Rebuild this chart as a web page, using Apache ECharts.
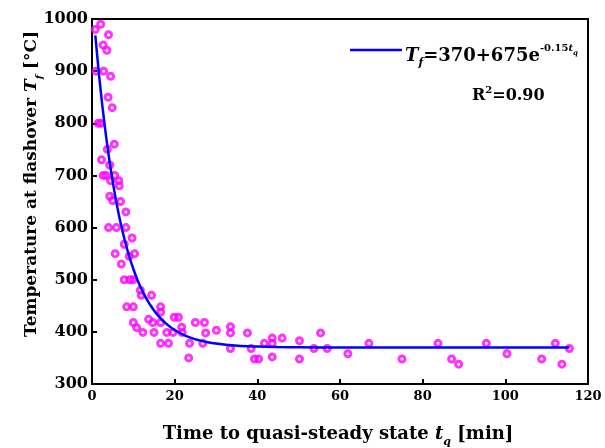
<!DOCTYPE html>
<html>
<head>
<meta charset="utf-8">
<script src="https://cdn.jsdelivr.net/npm/echarts@6/dist/echarts.min.js"></script>
<style>
  html, body { margin: 0; padding: 0; background: #fff; }
  #chart { width: 605px; height: 448px; }
</style>
</head>
<body>
<div id="chart"></div>
<script>
// measured points: time to quasi-steady state (min) / temperature at flashover (°C)
const timeQ = [2.1, 0.8, 4.0, 2.7, 3.6, 1.0, 2.8, 4.5, 3.9, 4.9,
  1.5, 2.2, 5.4, 3.7, 2.3, 4.3, 2.7, 3.4, 5.5, 4.5,
  6.5, 6.6, 4.3, 5.0, 6.9, 8.2, 4.0, 5.9, 8.2, 9.7,
  7.8, 10.3, 5.6, 9.0, 7.1, 7.8, 9.1, 9.9, 11.7, 11.9,
  14.4, 8.4, 10.0, 16.6, 16.6, 13.7, 14.7, 10.0, 16.6, 19.9,
  20.9, 10.8, 21.7, 12.3, 15.0, 18.1, 19.6, 21.8, 16.6, 18.5,
  23.6, 23.4, 25.0, 27.2, 26.8, 27.5, 30.1, 33.5, 33.5, 37.6,
  33.5, 38.5, 39.3, 40.3, 41.7, 43.6, 43.6, 46.0, 43.6, 50.2,
  50.2, 53.7, 55.3, 56.9, 61.9, 67.0, 75.0, 83.7, 87.0, 88.7,
  95.4, 100.4, 108.8, 112.1, 113.7, 115.5];
const tempF = [990, 980, 970, 950, 940, 900, 900, 890, 850, 830,
  800, 800, 760, 750, 730, 720, 700, 700, 700, 690,
  690, 680, 660, 652, 650, 630, 600, 600, 600, 580,
  568, 550, 550, 545, 530, 500, 500, 500, 480, 470,
  470, 448, 448, 448, 438, 424, 418, 418, 418, 428,
  428, 408, 409, 399, 399, 399, 399, 399, 378, 378,
  378, 350, 418, 418, 378, 398, 403, 410, 398, 398,
  368, 368, 348, 348, 378, 378, 388, 388, 352, 383,
  348, 368, 398, 368, 358, 378, 348, 378, 348, 338,
  378, 358, 348, 378, 338, 368];

// fitted curve Tf = 370 + 675 e^(-0.15 tq)
const fitTime = [0.8, 1.5, 2, 3, 4, 5, 6, 7, 8, 9, 10, 11, 12, 13, 14, 15, 16, 18, 20,
  22, 24, 26, 28, 30, 33, 36, 40, 45, 50, 60, 80, 100, 115.5];
const fitTemp = [968.7, 909.0, 870.1, 800.4, 740.4, 688.9, 644.4, 606.2, 573.3, 545.0,
  520.6, 499.6, 481.6, 466.0, 452.7, 441.1, 431.2, 415.4, 403.6, 394.9, 388.5, 383.7,
  380.1, 377.5, 374.8, 373.0, 371.7, 370.8, 370.4, 370.1, 370.0, 370.0, 370.0];

const serif = "DejaVu Serif";
const pts = timeQ.map((t, i) => [t, tempF[i]]);
const fitPts = fitTime.map((t, i) => [t, fitTemp[i]]);

const chart = echarts.init(document.getElementById("chart"));
chart.setOption({
  animation: false,
  grid: {
    left: 92, right: 17, top: 19, bottom: 64,
    show: true, borderColor: "#000", borderWidth: 2,
  },
  xAxis: {
    type: "value", min: 0, max: 120, interval: 20,
    axisLine: { show: true, onZero: false, lineStyle: { color: "#000", width: 2 } },
    axisTick: { show: true, inside: true, length: 5, lineStyle: { color: "#000", width: 2 } },
    axisLabel: { color: "#000", fontFamily: serif, fontWeight: "bold", fontSize: 13, margin: 6 },
    splitLine: { show: false },
  },
  yAxis: {
    type: "value", min: 300, max: 1000, interval: 100,
    axisLine: { show: true, onZero: false, lineStyle: { color: "#000", width: 2 } },
    axisTick: { show: true, inside: true, length: 5, lineStyle: { color: "#000", width: 2 } },
    axisLabel: {
      color: "#000", fontFamily: serif, fontWeight: "bold", fontSize: 16, margin: 4,
      formatter: (v) => String(v),
    },
    splitLine: { show: false },
  },
  series: [
    {
      type: "scatter",
      data: pts,
      symbol: "circle",
      symbolSize: 6,
      itemStyle: { color: "rgba(0,0,0,0)", borderColor: "#ff00ff", borderWidth: 3 },
      z: 2,
    },
    {
      type: "line",
      data: fitPts,
      smooth: true,
      showSymbol: false,
      lineStyle: { color: "#0000ff", width: 2.5 },
      z: 3,
    },
  ],
  graphic: [
    // legend sample line
    { type: "line", shape: { x1: 350, y1: 50, x2: 402, y2: 50 }, style: { stroke: "#0000ff", lineWidth: 2.5 } },
    {
      type: "text", x: 405, y: 50,
      style: {
        text: "{it|T}{sub|f}{b|=370+675e}{sup|-0.15}{supit|t}{supsub|q}",
        align: "left", verticalAlign: "middle",
        rich: {
          it: { fontFamily: serif, fontWeight: "bold", fontStyle: "italic", fontSize: 18, lineHeight: 18, padding: [6, 0, 0, 0], verticalAlign: "top" },
          b: { fontFamily: serif, fontWeight: "bold", fontSize: 18, lineHeight: 18, padding: [6, 0, 0, 0], verticalAlign: "top" },
          sub: { fontFamily: serif, fontWeight: "bold", fontStyle: "italic", fontSize: 11, lineHeight: 11, padding: [17, 0, 0, 0], verticalAlign: "top" },
          sup: { fontFamily: serif, fontWeight: "bold", fontSize: 10, lineHeight: 10, padding: [2, 0, 0, 0], verticalAlign: "top" },
          supit: { fontFamily: serif, fontWeight: "bold", fontStyle: "italic", fontSize: 10, lineHeight: 10, padding: [2, 0, 0, 0], verticalAlign: "top" },
          supsub: { fontFamily: serif, fontWeight: "bold", fontStyle: "italic", fontSize: 7, lineHeight: 7, padding: [9, 0, 0, 0], verticalAlign: "top" },
        },
      },
    },
    {
      type: "text", x: 472, y: 91,
      style: {
        text: "{b|R}{sup|2}{b|=0.90}",
        align: "left", verticalAlign: "middle",
        rich: {
          b: { fontFamily: serif, fontWeight: "bold", fontSize: 16, lineHeight: 16, padding: [5, 0, 0, 0], verticalAlign: "top" },
          sup: { fontFamily: serif, fontWeight: "bold", fontSize: 10, lineHeight: 10, padding: [2, 0, 0, 0], verticalAlign: "top" },
        },
      },
    },
    // x axis title
    {
      type: "text", x: 338, y: 430,
      style: {
        text: "{b|Time to quasi-steady state }{it|t}{sub|q}{b| [min]}",
        align: "center", verticalAlign: "middle",
        rich: {
          b: { fontFamily: serif, fontWeight: "bold", fontSize: 18, lineHeight: 18, padding: [4, 0, 0, 0], verticalAlign: "top" },
          it: { fontFamily: serif, fontWeight: "bold", fontStyle: "italic", fontSize: 18, lineHeight: 18, padding: [4, 0, 0, 0], verticalAlign: "top" },
          sub: { fontFamily: serif, fontWeight: "bold", fontStyle: "italic", fontSize: 11, lineHeight: 11, padding: [16, 0, 0, 0], verticalAlign: "top" },
        },
      },
    },
    // y axis title
    {
      type: "text", x: 28, y: 184, rotation: Math.PI / 2,
      style: {
        text: "{b|Temperature at flashover }{it|T}{sub|f}{b| [°C]}",
        align: "center", verticalAlign: "middle",
        rich: {
          b: { fontFamily: serif, fontWeight: "bold", fontSize: 17, lineHeight: 17, padding: [4, 0, 0, 0], verticalAlign: "top" },
          it: { fontFamily: serif, fontWeight: "bold", fontStyle: "italic", fontSize: 17, lineHeight: 17, padding: [4, 0, 0, 0], verticalAlign: "top" },
          sub: { fontFamily: serif, fontWeight: "bold", fontStyle: "italic", fontSize: 10, lineHeight: 10, padding: [15, 0, 0, 0], verticalAlign: "top" },
        },
      },
    },
  ],
});
</script>
</body>
</html>
